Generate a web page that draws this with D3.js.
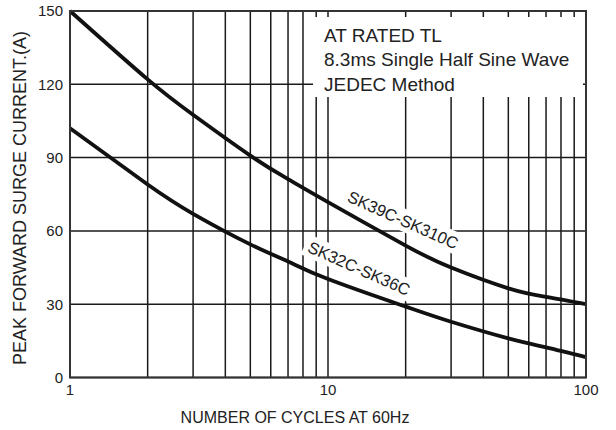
<!DOCTYPE html>
<html>
<head>
<meta charset="utf-8">
<script src="https://cdn.jsdelivr.net/npm/d3@7"></script>
<style>
  body { margin: 0; background: #fff; }
  svg { font-family: "Liberation Sans", Arial, sans-serif; }
</style>
</head>
<body>
<div id="chart"></div>
<script>
// valores
var cycles = [1, 2, 3, 5, 7, 10, 20, 30, 50, 70, 100];
var surgeHigh = [150, 122, 107.5, 90.8, 81.2, 71.8, 54, 45, 36.5, 33, 30];
var surgeLow = [102, 79, 67, 54.5, 47.5, 40.3, 29, 22.8, 16, 12.3, 8.3];
var xTicks = [1, 10, 100];
var yTicks = [0, 30, 60, 90, 120, 150];
var seriesNames = ["SK39C-SK310C", "SK32C-SK36C"];
var noteLines = ["AT RATED TL", "8.3ms Single Half Sine Wave", "JEDEC Method"];

var width = 616, height = 430;
// limites del area de trazado
var plotLeft = 70, plotRight = 586, plotTop = 11, plotBottom = 377.5;

var svg = d3.select("#chart").append("svg")
    .attr("width", width)
    .attr("height", height);

var x = d3.scaleLog().domain([1, 100]).range([plotLeft, plotRight]);
var y = d3.scaleLinear().domain([0, 150]).range([plotBottom, plotTop]);

// rejilla
svg.append("g")
    .selectAll("line")
    .data(x.ticks())
    .enter()
    .append("line")
    .attr("x1", d => x(d)).attr("x2", d => x(d))
    .attr("y1", plotTop).attr("y2", plotBottom)
    .attr("stroke", "#1a1a1a")
    .attr("stroke-width", 1.5);

svg.append("g")
    .selectAll("line")
    .data(yTicks)
    .enter()
    .append("line")
    .attr("x1", plotLeft).attr("x2", plotRight)
    .attr("y1", d => y(d)).attr("y2", d => y(d))
    .attr("stroke", "#1a1a1a")
    .attr("stroke-width", 1.5);

// caja blanca de la nota
svg.append("rect")
    .attr("x", 313).attr("y", 17)
    .attr("width", 270).attr("height", 80)
    .attr("fill", "#fff");

svg.append("g")
    .selectAll("text")
    .data(noteLines)
    .enter()
    .append("text")
    .attr("x", 324)
    .attr("y", (d, i) => 41.5 + i * 24.5)
    .attr("font-size", 19)
    .attr("fill", "#222")
    .text(d => d);

// etiquetas de las curvas con fondo blanco
var labelPos = [[403, 220], [359, 268.5]];
seriesNames.forEach(function (name, i) {
    var g = svg.append("g")
        .attr("transform", "translate(" + labelPos[i][0] + "," + labelPos[i][1] + ") rotate(24)");
    var t = g.append("text")
        .attr("text-anchor", "middle")
        .attr("dy", "0.35em")
        .attr("font-size", 16.5)
        .attr("fill", "#222")
        .text(name);
    var b = t.node().getBBox();
    g.insert("rect", "text")
        .attr("x", b.x - 4).attr("y", b.y - 2)
        .attr("width", b.width + 8).attr("height", b.height + 4)
        .attr("fill", "#fff");
});

// curvas
var line = d3.line()
    .x((d, i) => x(cycles[i]))
    .y(d => y(d))
    .curve(d3.curveNatural);

svg.append("g")
    .selectAll("path")
    .data([surgeHigh, surgeLow])
    .enter()
    .append("path")
    .attr("d", d => line(d))
    .attr("fill", "none")
    .attr("stroke", "#111")
    .attr("stroke-width", 3.8);

// marco
svg.append("rect")
    .attr("x", plotLeft).attr("y", plotTop)
    .attr("width", plotRight - plotLeft).attr("height", plotBottom - plotTop)
    .attr("fill", "none")
    .attr("stroke", "#333")
    .attr("stroke-width", 2);

// etiquetas de ejes
svg.append("g")
    .selectAll("text")
    .data(yTicks)
    .enter()
    .append("text")
    .attr("x", 63)
    .attr("y", d => y(d))
    .attr("dy", "0.36em")
    .attr("text-anchor", "end")
    .attr("font-size", 15)
    .attr("fill", "#222")
    .text(d => d);

svg.append("g")
    .selectAll("text")
    .data(xTicks)
    .enter()
    .append("text")
    .attr("x", d => x(d))
    .attr("y", 395)
    .attr("text-anchor", "middle")
    .attr("font-size", 15)
    .attr("fill", "#222")
    .text(d => d);

svg.append("text")
    .attr("x", 295)
    .attr("y", 423)
    .attr("text-anchor", "middle")
    .attr("font-size", 16)
    .attr("fill", "#222")
    .text("NUMBER OF CYCLES AT 60Hz");

svg.append("text")
    .attr("transform", "translate(26,198) rotate(-90)")
    .attr("text-anchor", "middle")
    .attr("font-size", 18)
    .attr("fill", "#222")
    .text("PEAK FORWARD SURGE CURRENT.(A)");
</script>
</body>
</html>
